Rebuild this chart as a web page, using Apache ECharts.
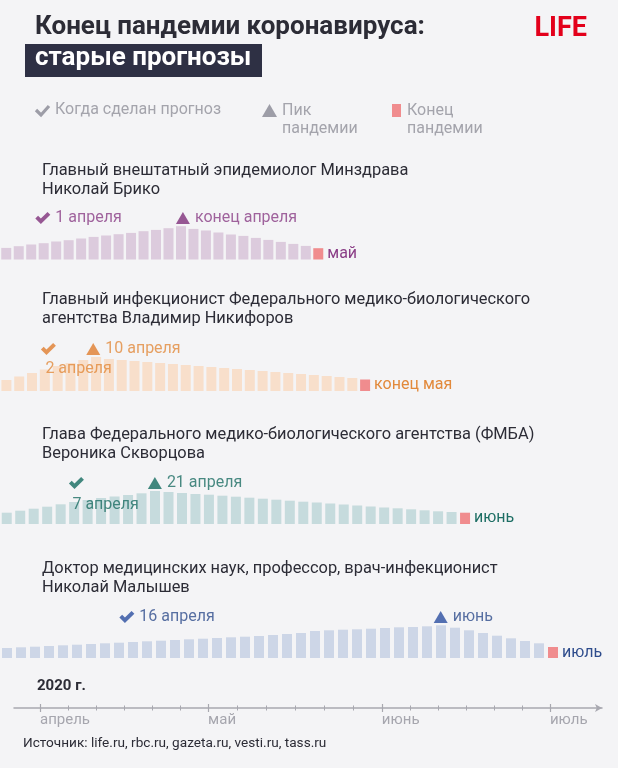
<!DOCTYPE html>
<html><head><meta charset="utf-8">
<script src="https://cdn.jsdelivr.net/npm/echarts@6/dist/echarts.min.js"></script>
<style>html,body{margin:0;padding:0;background:#f4f4f6;}#c{width:618px;height:768px;}</style>
</head><body><div id="c"></div>
<script>
// ---------- DATA ----------
const panelTitles = [
  'Главный внештатный эпидемиолог Минздрава\nНиколай Брико',
  'Главный инфекционист Федерального медико-биологического\nагентства Владимир Никифоров',
  'Глава Федерального медико-биологического агентства (ФМБА)\nВероника Скворцова',
  'Доктор медицинских наук, профессор, врач-инфекционист\nНиколай Малышев'
];
// bar heights (last bar = end of pandemic)
const p1Values = [11.6,13.3,15,16.3,18,19.3,21,22.6,24,25.3,26.6,28.3,29.6,31.3,33.3,30.6,29,27,25,23.6,21.6,19.6,17.6,15.6,13.6,11.3];
const p2Values = [11,14.5,18,21.5,25,28,31,34,32,31,30,29,28,27,26,25,24,23,22,21,20,19,18,17,16,15,14,13,11.5];
const p3Values = [11.3,13.3,15.3,17.3,19.7,22,24,26,27.5,29,30.7,33,32,31,30,29.3,28.3,27.3,26.3,25.3,24.3,23.3,22.3,21.5,20.5,19.5,18.5,17.5,16.5,15.7,14.7,13.7,12.7,12,11.3];
const p4Values = [10,10.7,11.3,12,12.7,13.3,14,14.7,15.3,16,16.7,17.3,18,18.7,19.3,20,20.7,21.3,22,23,24,25,27,27.7,28.3,28.7,29.3,30,30.7,31,31.7,32.7,30.3,27.7,25,22.3,19.7,17,14.7,11];
const madeDates  = ['2020-04-01','2020-04-02','2020-04-07','2020-04-16'];
const madeLabels = ['1 апреля','2 апреля','7 апреля','16 апреля'];
const peakDates  = ['2020-04-26','2020-04-10','2020-04-21','2020-06-11'];
const peakLabels = ['конец апреля','10 апреля','21 апреля','июнь'];
const endLabels  = ['май','конец мая','июнь','июль'];
const monthTicks  = ['2020-04-01','2020-05-01','2020-06-01','2020-07-01'];
const monthLabels = ['апрель','май','июнь','июль'];
const yearLabel = '2020 г.';
const sourceText = 'Источник: life.ru, rbc.ru, gazeta.ru, vesti.ru, tass.ru';
const legendLabels = ['Когда сделан прогноз','Пик\nпандемии','Конец\nпандемии'];

// ---------- STYLE / LAYOUT ----------
const FONT = 'Roboto';
const X0 = 40, PXD = 5.604, W = 618;
const PINK = '#f08c8e';
const styles = [
  {base:259.5, row:218, head:161.5, pitch:12.53, text:'#8a3d86', mark:'#7e2f7b', bar:'#dccbdd', below:false},
  {base:391,   row:349, head:290.5, pitch:12.86, text:'#e2893b', mark:'#e07d2e', bar:'#f8dfcb', below:true, off:-3, dist:6},
  {base:524,   row:483, head:425.5, pitch:13.53, text:'#1d6e64', mark:'#146b60', bar:'#c6dbdd', below:true, off:-4, dist:8},
  {base:658,   row:617, head:559.5, pitch:14.05, text:'#2e4c8c', mark:'#2a4ea0', bar:'#cdd6e7', below:false}
];
const allValues = [p1Values,p2Values,p3Values,p4Values];
const day0 = Date.UTC(2020,3,1);
function dayOf(s, mid){ const p = s.split('-').map(Number); return (Date.UTC(p[0],p[1]-1,p[2])-day0)/86400000 + (mid?0.5:0); }
function pxToDay(px){ return (px - X0)/PXD; }
const CHECK = 'path://M0,6.2 L2.6,3.6 L5.2,6.2 L11.4,0 L14,2.6 L5.2,11.4 Z';

const grids=[], xAxes=[], yAxes=[], series=[];
styles.forEach((st,i)=>{
  const vals = allValues[i], n = vals.length, H = 40;
  grids.push({left: 5 - st.pitch/2, top: st.base - H, width: n*st.pitch, height: H});
  grids.push({left: 0, top: st.row - 10, width: W, height: 20});
  xAxes.push({type:'category', gridIndex:2*i, data: vals.map((_,j)=>j), show:false, boundaryGap:true});
  xAxes.push({type:'value', gridIndex:2*i+1, min: pxToDay(0), max: pxToDay(W), show:false});
  yAxes.push({type:'value', gridIndex:2*i, min:0, max:H, show:false});
  yAxes.push({type:'value', gridIndex:2*i+1, min:-1, max:1, show:false});
  series.push({
    type:'bar', xAxisIndex:2*i, yAxisIndex:2*i, barWidth:10, silent:true, z:1,
    data: vals.map((v,j)=> j===n-1 ? {value:v, itemStyle:{color:PINK},
        label:{show:true, position:'right', distance:4, formatter:endLabels[i], color:st.text, fontSize:16, fontFamily:FONT}}
      : {value:v, itemStyle:{color:st.bar}})
  });
  const madeLabel = st.below
    ? {show:true, position:'bottom', align:'left', offset:[st.off, 0], distance:st.dist, formatter:madeLabels[i], color:st.text, fontSize:16, fontFamily:FONT}
    : {show:true, position:'right', distance:5, formatter:madeLabels[i], color:st.text, fontSize:16, fontFamily:FONT};
  series.push({
    type:'scatter', xAxisIndex:2*i+1, yAxisIndex:2*i+1, symbol:CHECK, symbolSize:[15,12], silent:true, z:5,
    itemStyle:{color:st.mark}, label:madeLabel,
    data:[[dayOf(madeDates[i],true),0]]
  });
  series.push({
    type:'scatter', xAxisIndex:2*i+1, yAxisIndex:2*i+1, symbol:'triangle', symbolSize:[14,12], silent:true, z:5,
    itemStyle:{color:st.mark},
    label:{show:true, position:'right', distance:5, formatter:peakLabels[i], color:st.text, fontSize:16, fontFamily:FONT},
    data:[[dayOf(peakDates[i],true),0]]
  });
});

// bottom date axis
const majorVals = monthTicks.map(s=>dayOf(s,false));
const minorVals = [];
for (let k=0;k<majorVals.length-1;k++){ const a=majorVals[k], b=majorVals[k+1]; for(let j=1;j<6;j++) minorVals.push(a+(b-a)*j/6); }
grids.push({left:14, top:690, width:588, height:18});
const gB = grids.length-1;
const axMin = pxToDay(14), axMax = pxToDay(602);
const AX = '#a8a8b0';
xAxes.push({type:'value', gridIndex:gB, min:axMin, max:axMax, position:'bottom',
  axisLine:{show:true, lineStyle:{color:AX, width:1.5}, symbol:['none','arrow'], symbolSize:[6,7]},
  axisTick:{show:true, customValues:majorVals, length:4, lineStyle:{color:AX, width:1.2}},
  axisLabel:{show:true, customValues:majorVals, align:'left', margin:5, color:'#a6a6ae', fontSize:15, fontFamily:FONT,
    formatter:(v)=>{ const k = majorVals.findIndex(m=>Math.abs(m-v)<0.01); return k>=0?monthLabels[k]:''; }},
  splitLine:{show:false}});
xAxes.push({type:'value', gridIndex:gB, min:axMin, max:axMax, position:'bottom',
  axisLine:{show:false}, axisTick:{show:true, inside:true, customValues:majorVals, length:4, lineStyle:{color:AX, width:1.2}},
  axisLabel:{show:false}, splitLine:{show:false}});
xAxes.push({type:'value', gridIndex:gB, min:axMin, max:axMax, position:'bottom',
  axisLine:{show:false}, axisTick:{show:true, customValues:minorVals, length:2.5, lineStyle:{color:AX, width:1}},
  axisLabel:{show:false}, splitLine:{show:false}});
xAxes.push({type:'value', gridIndex:gB, min:axMin, max:axMax, position:'bottom',
  axisLine:{show:false}, axisTick:{show:true, inside:true, customValues:minorVals, length:2.5, lineStyle:{color:AX, width:1}},
  axisLabel:{show:false}, splitLine:{show:false}});
yAxes.push({type:'value', gridIndex:gB, min:0, max:1, show:false});

// texts
const LG = '#a4a4ac', LGM = '#9d9da7', DARK = '#2c2c36';
const graphic = [
  {type:'text', left:35, top:14, style:{text:'Конец пандемии коронавируса:', fill:DARK, font:'bold 26px '+FONT}},
  {type:'rect', shape:{x:25, y:44, width:237, height:33}, style:{fill:'#2e3044'}},
  {type:'text', left:35, top:45, style:{text:'старые прогнозы', fill:'#ffffff', font:'bold 26px '+FONT}},
  {type:'text', right:31, top:16, style:{text:'LIFE', fill:'#e3001b', font:'bold 27px '+FONT}},
  {type:'polyline', shape:{points:[[36,110],[41,115],[49,106]]}, style:{stroke:LGM, lineWidth:3.2, fill:null}},
  {type:'text', x:55, y:102, style:{text:legendLabels[0], fill:LG, font:'16px '+FONT}},
  {type:'polygon', shape:{points:[[262,117],[277,117],[269.5,104]]}, style:{fill:LGM}},
  {type:'text', x:282, y:102, style:{text:legendLabels[1], fill:LG, font:'16px '+FONT, lineHeight:18}},
  {type:'rect', shape:{x:392, y:104, width:9, height:13}, style:{fill:PINK}},
  {type:'text', x:407, y:102, style:{text:legendLabels[2], fill:LG, font:'16px '+FONT, lineHeight:18}},
  {type:'text', x:37, y:679, style:{text:yearLabel, fill:DARK, font:'bold 15px '+FONT}},
  {type:'text', x:23, y:737, style:{text:sourceText, fill:DARK, font:'13.6px '+FONT}}
];
styles.forEach((st,i)=>{
  graphic.push({type:'text', x:42, y:st.head, style:{text:panelTitles[i], fill:DARK, font:'16.4px '+FONT, lineHeight:19}});
});

const chart = echarts.init(document.getElementById('c'), null, {renderer:'canvas', width:618, height:768});
chart.setOption({
  backgroundColor:'#f4f4f6',
  animation:false,
  grid:grids, xAxis:xAxes, yAxis:yAxes, series:series, graphic:graphic
});
</script>
</body></html>
